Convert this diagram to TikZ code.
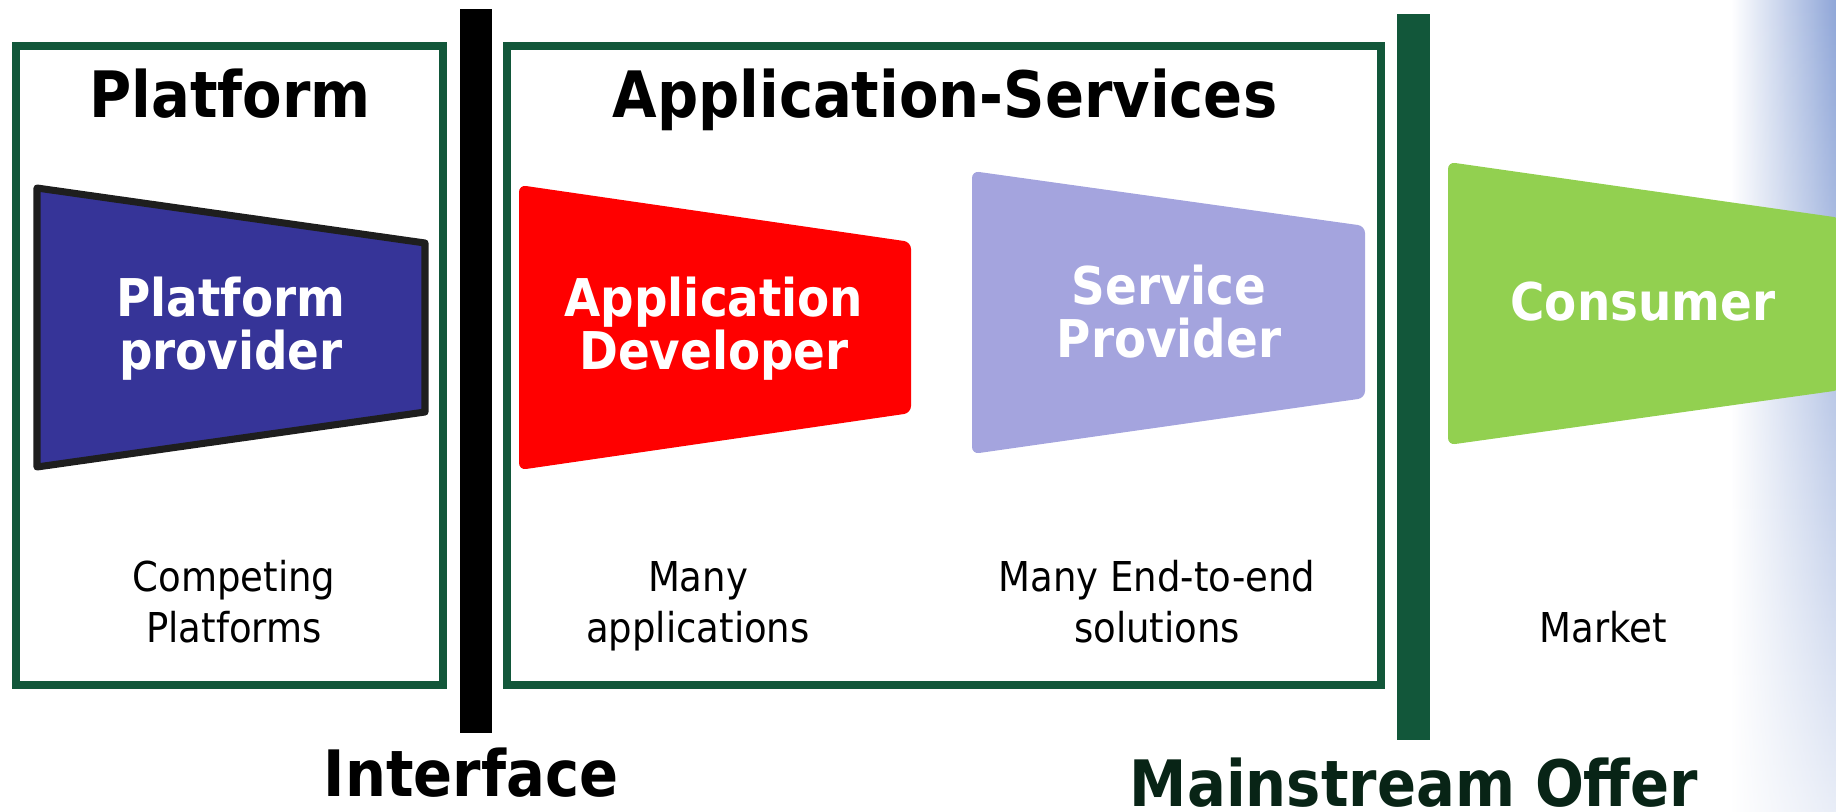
\documentclass[tikz,border=0pt]{standalone}
\usepackage{fontspec}
\setmainfont{DejaVu Sans Condensed}
\usetikzlibrary{fadings}
\definecolor{boxgreen}{RGB}{18,87,58}
\definecolor{offergreen}{RGB}{8,36,22}
\definecolor{platformblue}{RGB}{54,52,152}
\definecolor{edgegray}{RGB}{30,30,30}
\definecolor{appred}{RGB}{255,0,0}
\definecolor{servicelilac}{RGB}{164,164,222}
\definecolor{consumergreen}{RGB}{146,208,80}
\definecolor{fadeblue}{RGB}{143,166,216}

\begin{document}
\begin{tikzpicture}[x=0.01cm, y=-0.01cm,
    title/.style={font=\fontsize{18.2}{20}\selectfont\bfseries, anchor=base, inner sep=0pt},
    rolelabel/.style={font=\fontsize{14.8}{15}\selectfont\bfseries, text=white, align=center, anchor=base, inner sep=0pt},
    notelabel/.style={font=\fontsize{11.7}{14.3}\selectfont, align=center, anchor=base, inner sep=0pt}]
        \useasboundingbox (0,0) rectangle (1836,812);
        \clip (0,0) rectangle (1836,812);

        % Background fade on the right
        \shade[left color=white, right color=fadeblue] (1731,0) rectangle (1836,812);
        \fill[white, path fading=north, opacity=0.8] (1731,0) rectangle (1836,812);

        % Frames and bars
        \draw[boxgreen, line width=2.3pt] (16,46) rectangle (443,685);
        \draw[boxgreen, line width=2.3pt] (507,46) rectangle (1381,685);
        \fill[black] (460,9) rectangle (492,733);
        \fill[boxgreen] (1397,14) rectangle (1430,740);

        % Role shapes
        \filldraw[fill=platformblue, draw=edgegray, line width=2pt, line join=round] (37,188) -- (425,243) -- (425,412) -- (37,467) -- cycle;
        \fill[appred, rounded corners=2pt] (519,185) -- (911,242) -- (911,413) -- (519,470) -- cycle;
        \fill[servicelilac, rounded corners=2pt] (972,171) -- (1365,226) -- (1365,398) -- (972,454) -- cycle;
        \fill[consumergreen, rounded corners=2pt] (1448,162) -- (1841,218) -- (1841,390) -- (1448,445) -- cycle;

        % Titles
        \node[title] (platformtitle) at (230,117) {Platform};
        \node[title] (servicestitle) at (945,117) {Application-Services};

        % Role labels (base = last line)
        \node[rolelabel] (provider) at (231,369) {Platform\\provider};
        \node[rolelabel] (developer) at (714,369) {Application\\Developer};
        \node[rolelabel] (serviceprov) at (1169,357) {Service\\Provider};
        \node[rolelabel] (consumer) at (1643,320) {Consumer};

        % Notes
        \node[notelabel] (competing) at (234,642) {Competing\\Platforms};
        \node[notelabel] (manyapps) at (698,642) {Many\\applications};
        \node[notelabel] (endtoend) at (1157,642) {Many End-to-end\\solutions};
        \node[notelabel] (market) at (1603,642) {Market};

        % Bottom labels
        \node[title] (interface) at (471,796) {Interface};
        \node[title, text=offergreen] (mainstream) at (1414,806) {Mainstream Offer};
\end{tikzpicture}
\end{document}
